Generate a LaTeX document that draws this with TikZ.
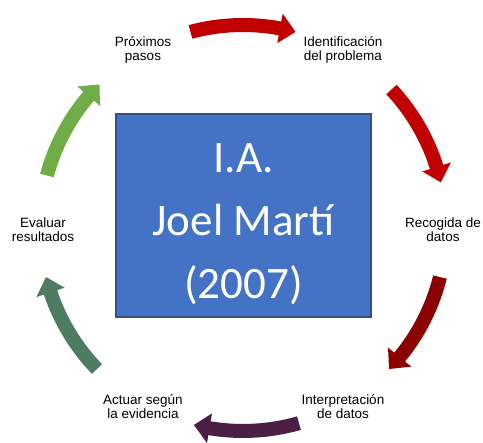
\documentclass[tikz,border=0pt]{standalone}
\usepackage{fontspec}
\setmainfont{Liberation Sans}
\newfontfamily\titlefont{Carlito}
\usepackage{tikz}

\definecolor{rojo}{HTML}{C00000}
\definecolor{granate}{HTML}{8B0000}
\definecolor{morado}{HTML}{4B1F44}
\definecolor{verdegris}{HTML}{4D7C62}
\definecolor{verde}{HTML}{70AD47}
\definecolor{azul}{HTML}{4472C4}
\definecolor{azulborde}{HTML}{2F528F}

% curved arrow around the cycle: colour, middle angle
\newcommand{\cyclearrow}[2]{%
  \fill[#1] ({#2+15}:210) arc[start angle={#2+15}, end angle={#2-10.5}, radius=210]
    -- ({#2-10.5}:218) -- ({#2-15}:203) -- ({#2-10.5}:188) -- ({#2-10.5}:196)
    arc[start angle={#2-10.5}, end angle={#2+15}, radius=196] -- cycle;}

\tikzset{
  etiqueta/.style={align=center, font=\fontsize{13.5}{14}\selectfont},
  caja/.style={draw=azulborde, line width=2pt, fill=azul, minimum width=255pt, minimum height=203pt},
  titulo/.style={align=center, text=white, font=\titlefont\fontsize{45}{63}\selectfont}
}

\begin{document}
\begin{tikzpicture}[x=1pt, y=1pt]
\useasboundingbox (-243,-215) rectangle (240,228);

\node[caja] (ia) at (0.5,12.5) {};
\node[titulo] (iatexto) at ([yshift=-9pt]ia.center) {I.A.\\Joel Martí\\(2007)};

\node[etiqueta] (identificacion) at (100,178) {Identificación\\del problema};
\node[etiqueta] (recogida) at (200,-2) {Recogida de\\datos};
\node[etiqueta] (interpretacion) at (100,-179) {Interpretación\\de datos};
\node[etiqueta] (actuar) at (-100,-179) {Actuar según\\la evidencia};
\node[etiqueta] (evaluar) at (-200,-2) {Evaluar\\resultados};
\node[etiqueta] (proximos) at (-100,178) {Próximos\\pasos};

\cyclearrow{rojo}{90}
\cyclearrow{rojo}{28}
\cyclearrow{granate}{-29}
\cyclearrow{morado}{-89}
\cyclearrow{verdegris}{-151}
\cyclearrow{verde}{150}
\end{tikzpicture}
\end{document}
